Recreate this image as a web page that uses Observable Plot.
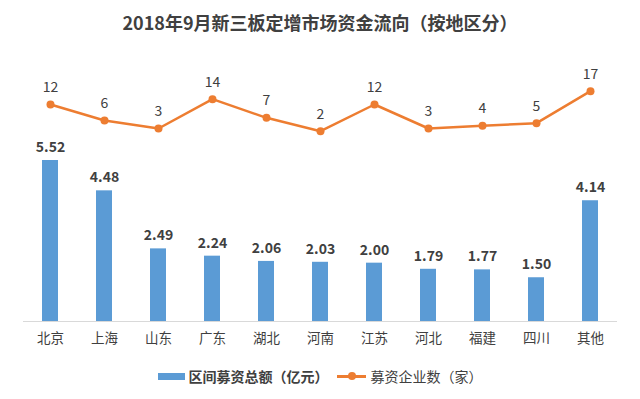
<!DOCTYPE html>
<html>
<head>
<meta charset="utf-8">
<script src="https://cdn.jsdelivr.net/npm/d3@7"></script>
<script src="https://cdn.jsdelivr.net/npm/@observablehq/plot@0.6"></script>
<style>
  html, body { margin: 0; padding: 0; background: #ffffff; }
  body { width: 640px; height: 399px; overflow: hidden; font-family: "Noto Sans CJK SC", "Noto Sans", sans-serif; color: #404040; }
  #title { height: 44px; line-height: 44px; text-align: center; font-size: 18px; font-weight: bold; color: #404040; }
  #chart { position: relative; width: 640px; height: 314px; }
  #chart svg { position: absolute; left: 0; top: 0; }
  #legend { height: 36px; display: flex; justify-content: center; align-items: center; font-size: 14px; color: #404040; }
  .item { display: flex; align-items: center; margin: 0 4px; }
  .swatch-bar { width: 27px; height: 7px; background: #5B9BD5; margin-right: 4px; }
  .swatch-line { position: relative; width: 29px; height: 3px; background: #ED7D31; margin-right: 5px; }
  .swatch-line::after { content: ""; position: absolute; left: 11px; top: -2.5px; width: 8px; height: 8px; border-radius: 50%; background: #ED7D31; }
</style>
</head>
<body>
<div id="title">2018年9月新三板定增市场资金流向（按地区分）</div>
<div id="chart"></div>
<div id="legend">
  <div class="item"><div class="swatch-bar"></div><span style="font-weight:bold">区间募资总额（亿元）</span></div>
  <div class="item"><div class="swatch-line"></div><span>募资企业数（家）</span></div>
</div>
<script>
const regions = ["北京", "上海", "山东", "广东", "湖北", "河南", "江苏", "河北", "福建", "四川", "其他"];
const amounts = [5.52, 4.48, 2.49, 2.24, 2.06, 2.03, 2.00, 1.79, 1.77, 1.50, 4.14];
const companies = [12, 6, 3, 14, 7, 2, 12, 3, 4, 5, 17];

const barColor = "#5B9BD5";
const lineColor = "#ED7D31";
const textColor = "#404040";

const data = regions.map((r, i) => ({region: r, amount: amounts[i], count: companies[i]}));

const xScale = {domain: regions, paddingInner: 0.7, paddingOuter: 0.35};
const style = {fontFamily: '"Noto Sans CJK SC", "Noto Sans", sans-serif', fontSize: "14px", color: textColor, background: "transparent"};

const barPlot = Plot.plot({
  width: 640,
  height: 314,
  marginTop: 102,
  marginBottom: 37,
  marginLeft: 23,
  marginRight: 23,
  style,
  x: {...xScale, label: null},
  y: {domain: [0, 6], axis: null},
  marks: [
    Plot.barY(data, {x: "region", y: "amount", fill: barColor}),
    Plot.ruleY([0], {stroke: "#D9D9D9", strokeWidth: 1}),
    Plot.text(data, {x: "region", y: "amount", text: d => d.amount.toFixed(2), dy: -13, fontWeight: "bold", fontSize: 14, fill: textColor}),
    Plot.axisX({tickSize: 0, tickPadding: 12, fontSize: 13.5, fill: textColor, label: null})
  ]
});

const linePlot = Plot.plot({
  width: 640,
  height: 314,
  marginTop: 36,
  marginBottom: 222,
  marginLeft: 23,
  marginRight: 23,
  style,
  x: {...xScale, axis: null},
  y: {domain: [0, 21], axis: null},
  marks: [
    Plot.line(data, {x: "region", y: "count", stroke: lineColor, strokeWidth: 2.5}),
    Plot.dot(data, {x: "region", y: "count", r: 4, fill: lineColor}),
    Plot.text(data, {x: "region", y: "count", text: d => String(d.count), dy: -17, fontSize: 14, fill: textColor})
  ]
});

const chart = document.getElementById("chart");
chart.appendChild(barPlot);
chart.appendChild(linePlot);
</script>
</body>
</html>
